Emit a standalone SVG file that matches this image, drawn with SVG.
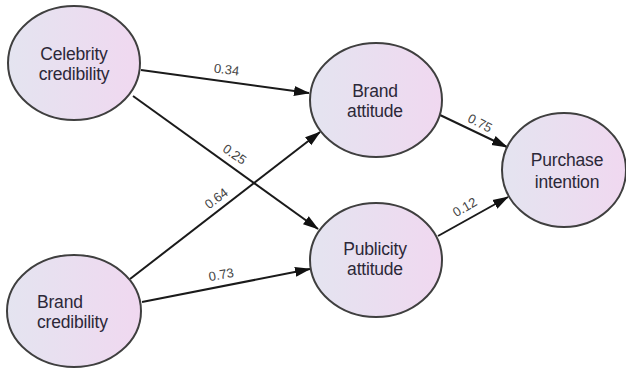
<svg xmlns="http://www.w3.org/2000/svg" width="626" height="368" viewBox="0 0 626 368">
<defs>
<linearGradient id="fill" x1="0" y1="0" x2="1" y2="0">
<stop offset="0" stop-color="#e4e4f0"/>
<stop offset="1" stop-color="#f0d8f0"/>
</linearGradient>
<marker id="arr" markerUnits="userSpaceOnUse" markerWidth="16" markerHeight="12" refX="15" refY="5" orient="auto" viewBox="0 0 16 10">
<path d="M0,0 L16,5 L0,10 Z" fill="#111"/>
</marker>
<style>
.node ellipse{fill:url(#fill);stroke:#3f3f3f;stroke-width:2}
.node text{font-family:"Liberation Sans",Arial,sans-serif;font-size:17.5px;fill:#2c2838;text-anchor:middle;letter-spacing:-0.2px}
.edges line{stroke:#1a1a1a;stroke-width:2;marker-end:url(#arr)}
.lbl{font-family:"Liberation Sans",Arial,sans-serif;font-size:13px;fill:#444;text-anchor:middle}
</style>
</defs>
<rect width="626" height="368" fill="#fff"/>
<g class="edges" id="connectors">
<line x1="141" y1="70" x2="309" y2="93"/>
<line x1="133" y1="96" x2="318" y2="229"/>
<line x1="130" y1="279" x2="320" y2="132"/>
<line x1="142" y1="302" x2="310" y2="269"/>
<line x1="440" y1="115" x2="507" y2="147"/>
<line x1="438" y1="236" x2="508" y2="197"/>
<text class="lbl" transform="translate(226,74) rotate(7)">0.34</text>
<text class="lbl" transform="translate(232,158) rotate(35)">0.25</text>
<text class="lbl" transform="translate(219,202) rotate(-37)">0.64</text>
<text class="lbl" transform="translate(222,279) rotate(-10)">0.73</text>
<text class="lbl" transform="translate(478,127) rotate(27)">0.75</text>
<text class="lbl" transform="translate(467,211) rotate(-30)">0.12</text>
</g>
<g class="node" id="celebrity-credibility">
<ellipse cx="74" cy="63" rx="66" ry="57"/>
<text x="74" y="60">Celebrity</text>
<text x="74" y="80">credibility</text>
</g>
<g class="node" id="brand-attitude">
<ellipse cx="376" cy="100" rx="66" ry="57"/>
<text x="375" y="97">Brand</text>
<text x="375" y="117">attitude</text>
</g>
<g class="node" id="purchase-intention">
<ellipse cx="564" cy="170" rx="62" ry="57"/>
<text x="567" y="166">Purchase</text>
<text x="567" y="188">intention</text>
</g>
<g class="node" id="publicity-attitude">
<ellipse cx="376" cy="260" rx="66" ry="57"/>
<text x="375" y="255">Publicity</text>
<text x="375" y="275">attitude</text>
</g>
<g class="node" id="brand-credibility">
<ellipse cx="74" cy="311" rx="67" ry="56"/>
<text x="37" y="308" style="text-anchor:start">Brand</text>
<text x="37" y="328" style="text-anchor:start">credibility</text>
</g>
</svg>
